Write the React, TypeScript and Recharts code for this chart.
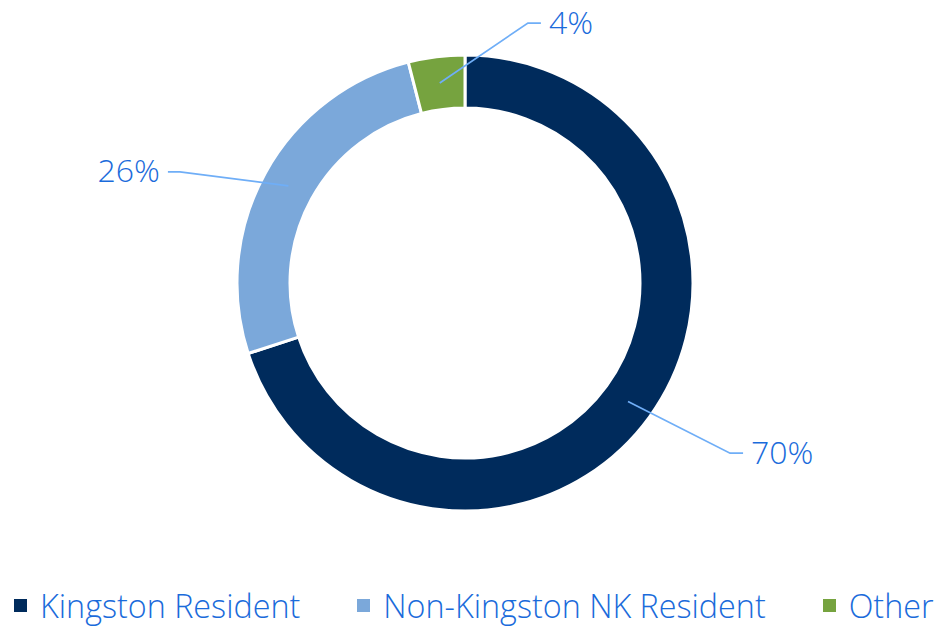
import React from "react";
import { PieChart, Pie, Cell, Legend } from "recharts";

const categories = ["Kingston Resident", "Non-Kingston NK Resident", "Other"];
const shares = [70, 26, 4];
const colors = ["#002B5C", "#7BA8DA", "#76A33F"];

// label elbow placement (angle in degrees CCW from +x, radius in px)
const labelAngles = [-32.7, 158.7, 76.4];
const labelRadii = [315, 306, 267.5];

const TEXT = "#1A6BDB";
const LEADER = "#6FAEF7";
const FONT = "'Open Sans', 'Noto Sans', sans-serif";

const data = categories.map((name, i) => ({ name, value: shares[i] }));

const RAD = Math.PI / 180;

const renderLabel = (props: any) => {
  const { cx, cy, midAngle, innerRadius, outerRadius, index, value } = props;
  const mr = (innerRadius + outerRadius) / 2;
  const sx = cx + mr * Math.cos(-midAngle * RAD);
  const sy = cy + mr * Math.sin(-midAngle * RAD);
  const ea = labelAngles[index];
  const er = labelRadii[index];
  const ex = cx + er * Math.cos(-ea * RAD);
  const ey = cy + er * Math.sin(-ea * RAD);
  const right = ex >= cx;
  const hx = ex + (right ? 13 : -12);
  const tx = hx + (right ? 8 : -8);
  return (
    <g key={`lbl-${index}`}>
      <polyline
        points={`${sx},${sy} ${ex},${ey} ${hx},${ey}`}
        fill="none"
        stroke={LEADER}
        strokeWidth={1.75}
      />
      <text
        x={tx}
        y={ey - 2}
        textAnchor={right ? "start" : "end"}
        dominantBaseline="central"
        fill={TEXT}
        fontSize={32}
        fontWeight={300}
        fontFamily={FONT}
      >
        {`${value}%`}
      </text>
    </g>
  );
};

const renderLegend = () => (
  <div
    style={{
      display: "flex",
      alignItems: "center",
      justifyContent: "flex-start",
      paddingLeft: 14,
      fontFamily: FONT,
      fontSize: 32.3,
      fontWeight: 300,
      color: TEXT,
      whiteSpace: "nowrap",
      lineHeight: "40px",
    }}
  >
    {categories.map((c, i) => (
      <div
        key={c}
        style={{ display: "flex", alignItems: "center", marginRight: i < categories.length - 1 ? 57 : 0 }}
      >
        <span
          style={{
            display: "inline-block",
            width: 13,
            height: 13,
            background: colors[i],
            marginRight: 13,
          }}
        />
        <span>{c}</span>
      </div>
    ))}
  </div>
);

export default function App() {
  return (
    <div style={{ position: "absolute", left: 0, top: 0, width: 937, height: 626, background: "#fff" }}>
      <PieChart width={937} height={626} margin={{ top: 0, right: 0, bottom: 0, left: 0 }}>
        <Pie
          data={data}
          dataKey="value"
          nameKey="name"
          cx={465}
          cy={283}
          innerRadius={175}
          outerRadius={228}
          startAngle={90}
          endAngle={-270}
          stroke="#ffffff"
          strokeWidth={3}
          label={renderLabel}
          labelLine={false}
          isAnimationActive={false}
        >
          {data.map((d, i) => (
            <Cell key={d.name} fill={colors[i]} />
          ))}
        </Pie>
        <Legend
          layout="horizontal"
          verticalAlign="bottom"
          align="left"
          content={renderLegend}
          wrapperStyle={{ position: "absolute", top: 585, left: 0, width: 937 }}
        />
      </PieChart>
    </div>
  );
}
